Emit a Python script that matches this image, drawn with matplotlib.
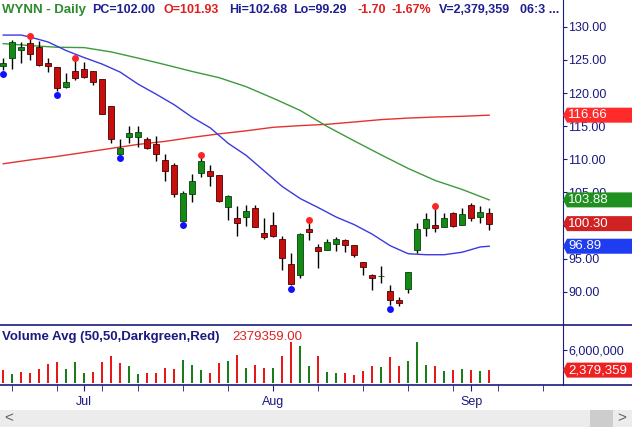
import matplotlib
matplotlib.use("Agg")
import matplotlib.pyplot as plt
import matplotlib.transforms as mtransforms
from matplotlib.patches import Polygon, Rectangle
from matplotlib.lines import Line2D

plt.rcParams['font.family'] = ['Liberation Sans', 'DejaVu Sans']

# daily bars, Jun 18 .. Sep 3 (bar index 0..54)
opens = [124.0, 125.25, 126.45, 127.5, 127.0, 124.5, 123.9, 120.95, 123.35, 123.65,
         123.3, 122.12, 118.06, 110.78, 113.34, 113.34, 113.04, 112.33, 109.93, 109.17,
         100.74, 104.8, 107.92, 108.27, 107.67, 102.8, 101.14, 101.3, 102.65, 98.9,
         100.1, 98.0, 94.25, 92.5, 99.55, 96.8, 96.35, 97.25, 97.85, 97.05,
         94.5, 92.6, 92.4, 90.1, 88.8, 90.45, 96.35, 99.65, 100.1, 99.8,
         101.9, 100.1, 103.1, 101.3, 101.93]
highs = [125.25, 128.0, 127.65, 128.25, 127.85, 125.25, 123.95, 123.0, 124.85, 124.65,
         123.3, 122.15, 118.1, 113.04, 115.05, 114.95, 113.35, 113.55, 110.83, 109.5,
         105.15, 107.8, 110.33, 109.17, 107.7, 104.65, 103.0, 103.15, 103.15, 101.14,
         102.09, 98.37, 95.8, 98.9, 100.4, 97.27, 97.98, 98.22, 98.03, 97.1,
         94.55, 92.65, 93.96, 91.1, 89.25, 93.0, 100.39, 101.9, 102.65, 101.9,
         102.05, 102.65, 103.4, 102.95, 102.68]
lows = [123.5, 123.6, 124.5, 125.05, 124.1, 123.2, 120.35, 120.7, 121.95, 122.2,
        121.2, 116.8, 112.45, 110.75, 112.45, 111.85, 111.55, 109.8, 106.8, 104.3,
        100.7, 103.5, 107.3, 106.0, 103.55, 100.8, 98.37, 99.88, 99.75, 97.98,
        98.28, 93.36, 91.05, 92.05, 97.78, 93.55, 96.3, 96.11, 95.96, 95.2,
        92.5, 90.25, 91.35, 88.04, 87.94, 89.85, 95.81, 98.37, 99.04, 99.75,
        99.79, 100.09, 100.63, 100.39, 99.29]
closes = [124.5, 127.65, 126.95, 125.93, 124.2, 124.1, 120.8, 121.72, 122.32, 122.47,
          121.63, 116.9, 113.04, 111.69, 113.95, 114.1, 111.69, 110.83, 108.31, 104.7,
          104.85, 106.76, 109.82, 107.41, 103.64, 104.5, 100.39, 102.24, 99.8, 98.35,
          98.5, 95.1, 91.15, 98.75, 99.05, 96.1, 97.55, 98.05, 97.15, 95.5,
          93.7, 92.1, 92.45, 88.8, 88.35, 93.0, 99.5, 101.0, 99.65, 101.15,
          99.95, 101.75, 101.15, 102.0, 100.30]
prior_close = 124.9
volumes = [2.36, 1.65, 2.0, 1.83, 2.54, 3.42, 3.78, 2.54, 3.78, 1.83,
           2.0, 3.78, 4.84, 3.6, 3.07, 1.65, 1.83, 1.83, 2.71, 2.54,
           4.13, 3.25, 2.36, 1.83, 3.6, 3.95, 5.19, 2.77, 3.29, 2.75,
           2.75, 4.94, 7.5, 6.71, 3.11, 4.94, 2.01, 1.83, 1.83, 1.46,
           2.2, 3.05, 2.93, 4.76, 3.11, 4.03, 7.5, 3.29, 3.11, 2.2,
           2.38, 2.56, 2.38, 2.2, 2.379359]  # millions

# swing markers
peak_idx = [3, 8, 22, 34, 48]
trough_idx = [0, 6, 13, 20, 32, 43]

# moving averages
sma20_idx = [0, 2, 3, 5, 7, 9, 11, 13, 15, 17, 19, 21, 23, 25, 27, 29, 31, 33, 35,
             37, 39, 41, 43, 45, 47, 49, 51, 53, 54]
sma20 = [128.74, 128.74, 128.44, 127.69, 126.4, 125.34, 124.36, 123.15, 121.33, 119.82,
         118.23, 116.34, 114.75, 112.41, 110.59, 108.25, 105.9, 104.08, 102.72,
         101.29, 100.15, 98.71, 96.97, 95.76, 95.61, 95.61, 95.99, 96.78, 96.89]
ma_idx = [0, 3, 6, 9, 12, 15, 18, 21, 24, 27, 30, 33, 36, 39, 42, 45, 48, 51, 54]
sma50 = [127.45, 127.16, 126.9, 126.85, 126.2, 125.26, 124.28, 123.25, 122.31, 120.95,
         119.21, 117.37, 114.95, 112.78, 110.67, 108.62, 106.81, 105.45, 103.88]
sma200 = [109.33, 109.91, 110.44, 111.04, 111.65, 112.25, 112.71, 113.31, 113.84, 114.3,
          114.83, 115.08, 115.28, 115.63, 115.99, 116.22, 116.38, 116.49, 116.66]

price_ticks = [90, 95, 100, 105, 110, 115, 120, 125, 130]
week_ticks = [1, 6, 11, 15, 20, 25, 35, 40, 45, 50, 55, 60]
month_ticks = [9, 30, 52]
month_labels = ['Jul', 'Aug', 'Sep']

header = [('WYNN - Daily', '#2e8b2e', 2), ('PC=102.00', '#1f1f8f', 92),
          ('O=101.93', '#e02020', 163), ('Hi=102.68', '#1f1f8f', 229),
          ('Lo=99.29', '#1f1f8f', 293), ('-1.70', '#e02020', 357),
          ('-1.67%', '#e02020', 392), ('V=2,379,359', '#1f1f8f', 439),
          ('06:3 ...', '#1f1f8f', 520)]

NAVY = '#1a1a80'
UP, DOWN = '#138a13', '#c80d0d'
W, H = 632, 428

fig = plt.figure(figsize=(W / 100, H / 100), dpi=100)
ax = fig.add_axes([0, 1 - 325 / H, 563 / W, 325 / H])
axv = fig.add_axes([0, 1 - 385 / H, 563 / W, 60 / H])

n = len(closes)
xs = list(range(n))
for a in (ax, axv):
    a.set_xlim(-0.356, 62.2)
    for s in ('top', 'left', 'bottom'):
        a.spines[s].set_visible(False)
    a.spines['right'].set_color(NAVY)
    a.yaxis.tick_right()
    a.tick_params(axis='y', direction='out', length=3, color=NAVY,
                  labelcolor=NAVY, labelsize=9, pad=1)

ax.set_ylim(85.01, 134.03)

# moving averages
ax.plot(ma_idx, sma200, color='#e43232', lw=1, zorder=2)
ax.plot(ma_idx, sma50, color='#3c9a3c', lw=1, zorder=2)
ax.plot(sma20_idx, sma20, color='#3a3ae0', lw=1, zorder=2)

# candles
ax.vlines(xs, lows, highs, color='black', lw=1, zorder=3)
body_col = [UP if c >= o else DOWN for o, c in zip(opens, closes)]
edge_col = ['#0a400a' if c >= o else '#4a0000' for o, c in zip(opens, closes)]
ax.bar(xs, [abs(c - o) for o, c in zip(opens, closes)],
       bottom=[min(o, c) for o, c in zip(opens, closes)], width=0.72,
       color=body_col, edgecolor=edge_col, linewidth=0.6, zorder=4)

up_off = mtransforms.offset_copy(ax.transData, fig=fig, y=2.5, units='dots')
dn_off = mtransforms.offset_copy(ax.transData, fig=fig, y=-4, units='dots')
ax.plot(peak_idx, [highs[i] for i in peak_idx], 'o', color='#ff2424', ms=5,
        mec='none', transform=up_off, zorder=5)
ax.plot(trough_idx, [lows[i] for i in trough_idx], 'o', color='#1010ff', ms=5,
        mec='none', transform=dn_off, zorder=5)

ax.set_yticks(price_ticks)
ax.set_yticklabels(['%.2f' % p for p in price_ticks])
ax.tick_params(axis='x', bottom=False, labelbottom=False)

# volume
prev = [prior_close] + closes[:-1]
vcol = ['#1a7d1a' if c > p else '#e81818' for c, p in zip(closes, prev)]
axv.bar(xs, [v * 1e6 for v in volumes], width=0.25, color=vcol, zorder=3)
axv.set_ylim(-0.3e6, 10.5e6)
axv.set_yticks([6e6])
axv.set_yticklabels(['6,000,000'])
axv.set_xticks(month_ticks)
axv.set_xticklabels(month_labels)
axv.set_xticks(week_ticks, minor=True)
axv.tick_params(axis='x', which='both', direction='out', length=4, color=NAVY,
                labelcolor=NAVY, labelsize=9, pad=4)

# panel dividers across full width
for yy in (325, 385):
    fig.add_artist(Line2D([0, 1], [1 - yy / H] * 2, transform=fig.transFigure,
                          color=NAVY, lw=1.2))


def tag(axis, value, label, color):
    yp = axis.transData.transform((0, value))[1]
    x0 = axis.transAxes.transform((1, 0))[0]
    h = 7.5
    pts = [(x0, yp), (x0 + 4, yp + h), (W, yp + h), (W, yp - h), (x0 + 4, yp - h)]
    fig.add_artist(Polygon([(px / W, py / H) for px, py in pts], closed=True,
                           transform=fig.transFigure, fc=color, ec='none', zorder=5))
    fig.text((x0 + 5) / W, yp / H, label, color='white', fontsize=9.5,
             va='center', ha='left', zorder=6)


tag(ax, sma200[-1], '%.2f' % sma200[-1], '#ff2a2a')
tag(ax, sma50[-1], '%.2f' % sma50[-1], '#1f8f1f')
tag(ax, closes[-1], '%.2f' % closes[-1], '#d02222')
tag(ax, sma20[-1], '%.2f' % sma20[-1], '#1e3cf0')
tag(axv, volumes[-1] * 1e6, '{:,.0f}'.format(volumes[-1] * 1e6), '#ee2020')

# header texts
for txt, col, xp in header:
    fs = 9.5 if txt.startswith('WYNN') else 9
    fig.text(xp / W, 1 - 10 / H, txt, color=col, fontsize=fs, fontweight='bold',
             va='center', ha='left')
fig.text(2 / W, 1 - 337 / H, 'Volume Avg (50,50,Darkgreen,Red)', color=NAVY,
         fontsize=9.5, fontweight='bold', va='center', ha='left')
fig.text(232 / W, 1 - 337 / H, '{:.2f}'.format(volumes[-1] * 1e6), color='#e02020',
         fontsize=9.5, va='center', ha='left')

# scroll bar
fig.add_artist(Rectangle((0, 1 - 427 / H), 1, 17 / H, transform=fig.transFigure,
                         fc='#ececec', ec='none'))
fig.add_artist(Rectangle((590 / W, 1 - 427 / H), 23 / W, 17 / H,
                         transform=fig.transFigure, fc='#cdcdcd', ec='none'))
fig.text(9 / W, 1 - 418.5 / H, '<', color='#606060', fontsize=11, ha='center', va='center')
fig.text(622 / W, 1 - 418.5 / H, '>', color='#606060', fontsize=11, ha='center', va='center')

fig.savefig('out.png', dpi=100)
